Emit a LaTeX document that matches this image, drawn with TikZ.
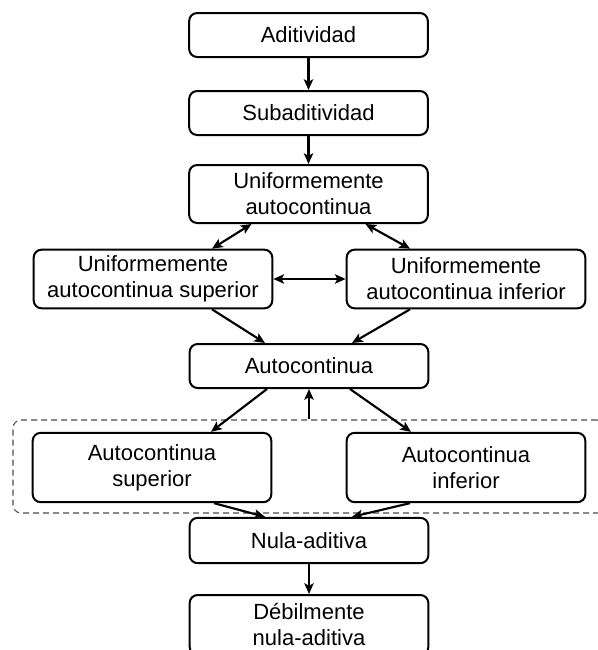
\documentclass[tikz,border=0pt]{standalone}
\usepackage{fontspec}
\setmainfont{Liberation Sans}
\usetikzlibrary{arrows.meta,positioning,calc}

\begin{document}
\begin{tikzpicture}[
		x=0.75pt, y=-0.75pt,
		>={Stealth[length=8pt,width=7pt,inset=1.8pt]},
		box/.style={
			draw,
			line width=1.5pt,
			rounded corners=6pt,
			align=center,
			inner sep=0pt,
			minimum width=179pt,
			minimum height=33pt,
			font=\fontsize{16.5}{19.5}\selectfont
		},
		grp/.style={
			draw=black!70,
			line width=0.8pt,
			dash pattern=on 4.5pt off 3pt,
			rounded corners=6pt,
			minimum width=444pt,
			minimum height=69.75pt
		},
		conn/.style={line width=1.6pt}
		]
		
		\useasboundingbox (0,0) rectangle (597,650);
		
		\node[grp] (grp) at (309,466.5) {};
		
		\node[box] (adit) at (308.5,35) {Aditividad};
		\node[box] (subad) at (308.5,113) {Subaditividad};
		\node[box,minimum height=43.5pt] (unif) at (308.5,194)
		{Uniformemente\\autocontinua};
		
		\node[box,minimum height=44pt] (unifsup) at (153,279)
		{Uniformemente\\autocontinua superior};
		\node[box,minimum height=44pt] (unifinf) at (466,279)
		{Uniformemente\\autocontinua inferior};
		
		\node[box] (auto) at (309,366) {Autocontinua};
		
		\node[box,minimum height=52pt] (autosup) at (152,467.5)
		{Autocontinua\\superior};
		\node[box,minimum height=52pt] (autoinf) at (466,467.5)
		{Autocontinua\\inferior};
		
		\node[box,minimum height=34pt] (nula) at (309,540.5) {Nula-aditiva};
		\node[box,minimum height=45pt] (debil) at (309,625)
		{Débilmente\\nula-aditiva};
		
		\draw[->,conn] (adit)--(subad);
		\draw[->,conn] (subad)--(unif);
		
		\draw[<->,conn] ($(unif.south)+(-57,0)$)--($(unifsup.north)+(59,0)$);
		\draw[<->,conn] ($(unif.south)+(57,0)$)--($(unifinf.north)+(-56,0)$);
		\draw[<->,conn] (unifsup.east)--(unifinf.west);
		
		\draw[->,conn] ($(unifsup.south)+(59,0)$)--($(auto.north)+(-44,0)$);
		\draw[->,conn] ($(unifinf.south)+(-56,0)$)--($(auto.north)+(43,0)$);
		
		\draw[->,conn] ($(auto.south)+(-42,0)$)--($(autosup.north)+(59,0)$);
		\draw[->,conn] ($(auto.south)+(41,0)$)--($(autoinf.north)+(-55,0)$);
		\draw[->,conn] (grp.north)--(grp.north |- auto.south);
		
		\draw[->,conn] ($(autosup.south)+(62,0)$)--($(nula.north)+(-44,0)$);
		\draw[->,conn] ($(autoinf.south)+(-56,0)$)--($(nula.north)+(43,0)$);
		
		\draw[->,conn] (nula)--(debil);
		
	\end{tikzpicture}
\end{document}
